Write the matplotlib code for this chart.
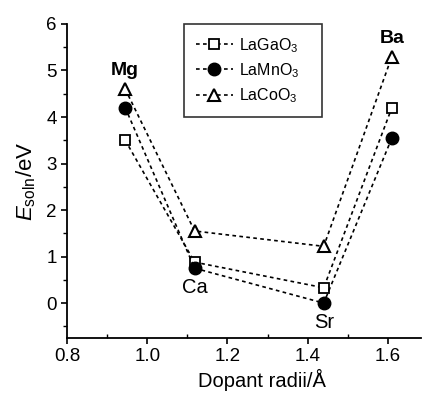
import matplotlib.pyplot as plt
from matplotlib.ticker import MultipleLocator

plt.rcParams['font.family'] = ['Liberation Sans', 'DejaVu Sans']
plt.rcParams['mathtext.fontset'] = 'custom'
plt.rcParams['mathtext.rm'] = 'Liberation Sans'
plt.rcParams['mathtext.it'] = 'Liberation Sans:italic'

# dopant ionic radii (Å) and solution energies (eV)
dopants = ["Mg", "Ca", "Sr", "Ba"]
radii = [0.945, 1.118, 1.44, 1.61]
e_lagao3 = [3.5, 0.88, 0.33, 4.2]
e_lamno3 = [4.2, 0.75, 0.0, 3.55]
e_lacoo3 = [4.6, 1.55, 1.22, 5.3]

fig = plt.figure(figsize=(4.22, 3.93), dpi=100)
ax = fig.add_axes([0.159, 0.14, 0.839, 0.799])

dash = (0, (2.2, 2.0))
ax.plot(radii, e_lagao3, linestyle=dash, color="k", lw=1.2, marker="s",
        ms=7, mfc="white", mec="k", mew=1.3, label="LaGaO$_3$", zorder=3)
ax.plot(radii, e_lamno3, linestyle=dash, color="k", lw=1.2, marker="o",
        ms=9, mfc="k", mec="k", label="LaMnO$_3$", zorder=3)
ax.plot(radii, e_lacoo3, linestyle=dash, color="k", lw=1.2, marker="^",
        ms=8, mfc="white", mec="k", mew=1.5, label="LaCoO$_3$", zorder=3)

# dopant labels
ax.annotate(dopants[0], (radii[0], e_lacoo3[0]), xytext=(0, 7),
            textcoords="offset points", ha="center", va="bottom",
            fontsize=14, fontweight="bold")
ax.annotate(dopants[1], (radii[1], e_lamno3[1]), xytext=(0, -7),
            textcoords="offset points", ha="center", va="top", fontsize=14.5)
ax.annotate(dopants[2], (radii[2], e_lamno3[2]), xytext=(0, -7),
            textcoords="offset points", ha="center", va="top", fontsize=14.5)
ax.annotate(dopants[3], (radii[3], e_lacoo3[3]), xytext=(0, 7),
            textcoords="offset points", ha="center", va="bottom",
            fontsize=14, fontweight="bold")

ax.set_xlim(0.8, 1.683)
ax.set_ylim(-0.75, 6)
ax.xaxis.set_major_locator(MultipleLocator(0.2))
ax.xaxis.set_minor_locator(MultipleLocator(0.1))
ax.yaxis.set_major_locator(MultipleLocator(1))
ax.yaxis.set_minor_locator(MultipleLocator(0.5))
ax.tick_params(which="major", direction="out", length=4, width=1.2,
               labelsize=13.5)
ax.tick_params(axis="x", which="minor", direction="in", length=3, width=1)
ax.tick_params(axis="y", which="minor", direction="out", length=3, width=1)

for side in ["top", "right"]:
    ax.spines[side].set_visible(False)
for side in ["left", "bottom"]:
    ax.spines[side].set_linewidth(1.3)

ax.set_xlabel("Dopant radii/Å", fontsize=14.5)
ax.xaxis.set_label_coords(0.55, -0.1)
ax.set_ylabel("$E_{\\mathrm{soln}}$/eV", fontsize=16, labelpad=6)

leg = ax.legend(loc="upper left", bbox_to_anchor=(0.33, 0.0, 0.39, 1.0),
                mode="expand", borderaxespad=0,
                frameon=True, fancybox=False, edgecolor="k", fontsize=11.5,
                handlelength=2.3, handletextpad=0.4, borderpad=0.75,
                labelspacing=0.4)
leg.get_frame().set_linewidth(1.2)

fig.savefig("out.png", dpi=100)
